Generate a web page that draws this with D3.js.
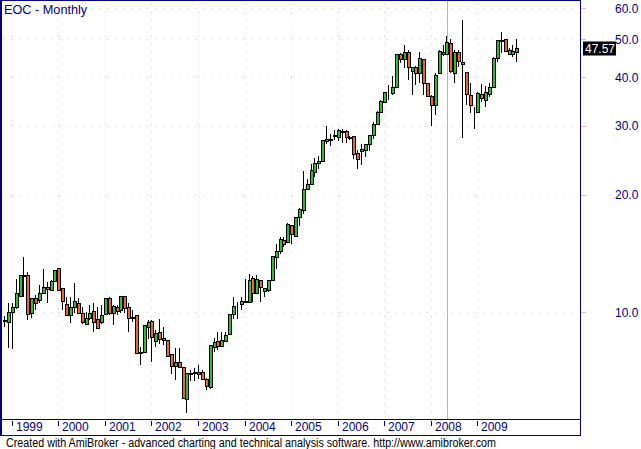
<!DOCTYPE html>
<html><head><meta charset="utf-8">
<script src="https://cdn.jsdelivr.net/npm/d3@7"></script>
<style>html,body{margin:0;padding:0;background:#fff;}svg{display:block;}</style>
</head><body>
<svg id="chart" width="641" height="449"></svg>
<script>
// ---- data (monthly OHLC, Nov 1998 .. Nov 2009) ----
const title = "EOC - Monthly";
const startMonth = new Date(1998, 10, 1);
const openVals = [9.50,9.45,10.02,10.28,10.99,12.40,12.42,9.92,10.83,10.73,11.16,11.60,11.40,12.03,12.94,11.50,10.48,9.80,10.28,10.53,9.97,9.33,9.63,10.05,9.58,9.42,9.88,10.83,9.92,10.28,10.12,11.00,10.28,9.70,9.80,7.86,7.88,9.16,9.50,8.44,8.90,8.57,8.48,7.81,7.27,7.46,7.25,5.99,6.95,6.97,7.03,7.03,6.72,6.41,8.13,8.43,8.17,8.45,8.80,9.88,10.40,10.50,10.63,10.63,12.20,11.20,12.08,11.30,11.40,12.08,13.85,14.30,15.30,15.15,16.75,15.70,17.48,18.30,20.62,21.30,22.90,24.10,24.30,27.40,27.60,28.20,28.00,29.00,29.10,27.90,28.20,25.60,25.90,26.00,26.95,28.40,30.40,32.50,34.60,36.40,36.50,37.70,45.80,44.40,46.30,41.50,42.40,40.90,44.40,38.50,35.80,33.90,40.90,46.30,45.70,49.00,41.00,46.30,43.80,41.20,36.00,32.60,32.60,36.10,35.00,36.20,37.60,44.80,49.90,50.00,45.70,45.90,46.40];
const highVals = [9.74,10.53,10.53,12.12,12.45,13.81,12.68,10.85,11.05,11.72,12.86,11.97,12.10,12.85,12.96,11.52,10.95,10.95,11.84,10.83,10.30,10.00,10.40,10.53,10.30,10.40,10.85,10.95,10.40,10.40,11.02,11.02,10.53,10.12,9.82,8.15,9.27,9.54,9.54,9.00,9.57,9.15,8.50,7.82,8.07,8.07,7.25,6.98,7.10,7.20,7.33,7.10,6.78,8.25,8.58,8.87,8.87,8.90,9.90,10.95,10.63,10.90,12.17,12.51,12.35,12.45,12.10,11.55,12.10,13.93,14.91,15.55,15.55,16.90,16.75,17.50,18.50,22.97,21.90,23.94,24.80,25.10,27.60,29.96,28.60,29.20,29.40,29.50,29.20,28.30,28.25,26.00,26.90,27.00,28.40,30.60,32.80,35.00,36.70,38.20,40.20,45.80,46.20,48.30,46.80,42.50,42.60,46.40,44.50,38.60,36.00,40.90,46.80,48.40,50.90,50.10,46.90,46.90,56.00,41.30,38.60,33.50,36.60,38.30,38.00,38.60,44.90,49.90,52.10,50.10,47.40,48.30,50.00];
const lowVals = [9.16,8.07,8.03,10.16,10.90,10.95,9.54,9.63,10.12,10.53,11.10,10.53,11.35,11.95,11.38,10.12,9.78,9.35,9.92,9.92,9.33,9.30,9.54,8.90,9.08,9.33,9.85,9.82,9.25,9.82,9.92,9.92,8.90,9.45,7.82,7.31,7.85,8.54,7.45,8.13,8.28,8.24,7.70,6.94,6.69,7.20,6.00,5.52,6.65,6.65,6.72,6.70,6.33,6.35,7.90,8.00,8.15,8.40,8.78,9.57,9.57,10.12,10.60,10.60,10.60,11.18,10.60,10.90,11.28,12.05,12.90,14.10,14.70,15.10,14.95,15.65,16.60,17.80,20.50,21.20,22.20,23.30,24.25,26.94,26.70,27.60,27.50,27.10,27.10,27.60,24.60,23.20,23.80,24.90,25.90,27.80,30.30,32.30,34.40,34.90,35.90,37.60,43.50,42.10,39.30,36.00,38.20,38.50,36.00,35.50,29.96,31.96,40.70,45.30,45.50,41.00,38.70,42.50,27.96,33.90,32.40,29.40,32.50,34.60,33.60,35.60,37.50,43.70,46.00,46.30,45.50,45.10,43.70];
const closeVals = [9.55,10.02,10.28,11.16,12.42,12.45,9.88,10.83,10.53,11.16,11.60,11.45,12.03,12.81,11.40,10.69,9.80,10.30,10.69,9.97,9.42,9.63,9.92,9.45,9.09,9.84,10.83,9.92,10.37,10.05,11.00,10.22,9.68,9.68,7.84,7.88,9.25,9.42,8.61,8.82,8.51,8.47,7.71,7.27,7.46,7.25,6.01,6.97,6.97,7.00,6.93,6.72,6.47,8.23,8.40,8.17,8.48,8.74,9.88,10.37,10.42,10.67,10.65,12.08,11.16,12.12,11.60,11.49,12.08,13.91,14.36,15.35,14.95,16.80,15.80,17.48,18.33,20.62,21.25,23.11,24.13,24.30,27.58,27.70,27.70,28.40,29.20,29.10,28.00,28.10,25.35,24.70,26.20,26.90,28.40,30.40,32.48,34.70,36.55,36.50,37.80,45.80,44.40,46.30,42.40,42.40,40.90,44.70,38.50,35.80,33.90,40.50,46.70,45.80,49.30,41.50,46.30,44.00,43.30,36.10,33.90,32.50,36.50,35.40,36.60,37.60,44.80,49.80,49.50,46.50,47.00,46.60,47.57];
const yTickValues = [10, 20, 30, 40, 50, 60];
const lastLabel = "47.57";
const selectedIndex = 114;
const footer = "Created with AmiBroker - advanced charting and technical analysis software. http://www.amibroker.com";

// ---- build ----
const months = d3.timeMonth.range(startMonth, d3.timeMonth.offset(startMonth, openVals.length));
const bars = months.map((d, i) => ({date: d, o: openVals[i], h: highVals[i], l: lowVals[i], c: closeVals[i]}));

const NAVY = "#000080", GRID = "#f2c2cc", UP = "#2cc02c", DOWN = "#f2652a";
const plotRight = 580, plotBottom = 419, axisBottom = 435;

const svg = d3.select("#chart");
const x = d3.scaleLinear().domain([0, bars.length - 1]).range([5, 517.3]);
const y = d3.scaleLog().domain([5.32, 63]).range([plotBottom, 0]);
const cx = i => Math.round(x(i));

// grid
const g = svg.append("g").attr("shape-rendering", "crispEdges");
const yearIdx = bars.map((b, i) => i).filter(i => bars[i].date.getMonth() === 0);
g.selectAll("line.hg").data(yTickValues).enter().append("line")
  .attr("x1", 3).attr("x2", plotRight - 1)
  .attr("y1", d => Math.round(y(d)) + 0.5).attr("y2", d => Math.round(y(d)) + 0.5)
  .attr("stroke", GRID).attr("stroke-dasharray", "1,7");
g.selectAll("line.vg").data(yearIdx).enter().append("line")
  .attr("x1", i => cx(i) - 0.5).attr("x2", i => cx(i) - 0.5)
  .attr("y1", 4).attr("y2", plotBottom)
  .attr("stroke", GRID).attr("stroke-dasharray", "1,7");

// selection line
g.append("line").attr("x1", cx(selectedIndex) + 0.5).attr("x2", cx(selectedIndex) + 0.5)
  .attr("y1", 1).attr("y2", plotBottom).attr("stroke", "#b0b0ee");

// candles
const cg = svg.append("g").attr("shape-rendering", "crispEdges");
cg.selectAll("line.wick").data(bars).enter().append("line")
  .attr("x1", (d, i) => cx(i) - 0.5).attr("x2", (d, i) => cx(i) - 0.5)
  .attr("y1", d => y(d.h)).attr("y2", d => y(d.l))
  .attr("stroke", "#000");
cg.selectAll("rect.body").data(bars).enter().append("rect")
  .attr("x", (d, i) => cx(i) - 1.5).attr("width", 3)
  .attr("y", d => Math.round(y(Math.max(d.o, d.c))) + 0.5)
  .attr("height", d => Math.max(0, Math.round(y(Math.min(d.o, d.c))) - Math.round(y(Math.max(d.o, d.c)))))
  .attr("fill", d => d.c >= d.o ? UP : DOWN)
  .attr("stroke", "#000");

// frame
const fg = svg.append("g").attr("shape-rendering", "crispEdges").attr("stroke", NAVY).attr("fill", "none");
fg.append("rect").attr("x", 0.5).attr("y", 0.5).attr("width", plotRight).attr("height", axisBottom);
fg.append("line").attr("x1", 1.5).attr("x2", 1.5).attr("y1", 0).attr("y2", axisBottom);
fg.append("line").attr("x1", 0).attr("x2", plotRight).attr("y1", plotBottom + 0.5).attr("y2", plotBottom + 0.5);

// right ticks
g.selectAll("line.rt").data(yTickValues).enter().append("line")
  .attr("x1", plotRight + 1).attr("x2", plotRight + 6)
  .attr("y1", d => Math.round(y(d)) + 0.5).attr("y2", d => Math.round(y(d)) + 0.5)
  .attr("stroke", "#f4b8c0");

const font = "'Liberation Sans', Arial, sans-serif";
// y labels
svg.selectAll("text.yl").data(yTickValues).enter().append("text")
  .attr("x", 615).attr("y", d => y(d) + 4.5)
  .attr("font-family", font).attr("font-size", 12).attr("fill", NAVY)
  .text(d => d3.format(".1f")(d));

// last value box
svg.append("rect").attr("x", 583).attr("y", 41.5).attr("width", 33).attr("height", 14).attr("fill", "#000");
svg.append("text").attr("x", 585).attr("y", 53).attr("font-family", font).attr("font-size", 12)
  .attr("fill", "#fff").text(lastLabel);

// x axis
svg.append("g").attr("shape-rendering", "crispEdges").selectAll("line").data(yearIdx).enter().append("line")
  .attr("x1", i => cx(i) - 0.5).attr("x2", i => cx(i) - 0.5).attr("y1", 421).attr("y2", 426)
  .attr("stroke", NAVY);
svg.selectAll("text.xl").data(yearIdx).enter().append("text")
  .attr("x", i => cx(i) + 3).attr("y", 431)
  .attr("font-family", font).attr("font-size", 12).attr("fill", NAVY)
  .text(i => d3.timeFormat("%Y")(bars[i].date));

// title
svg.append("text").attr("x", 4).attr("y", 13.5).attr("font-family", font).attr("font-size", 12.7)
  .attr("fill", NAVY).text(title);

// footer
svg.append("text").attr("x", 6).attr("y", 447).attr("font-family", font).attr("font-size", 12)
  .attr("fill", "#000").attr("textLength", 490).attr("lengthAdjust", "spacingAndGlyphs").text(footer);
</script>
</body></html>
